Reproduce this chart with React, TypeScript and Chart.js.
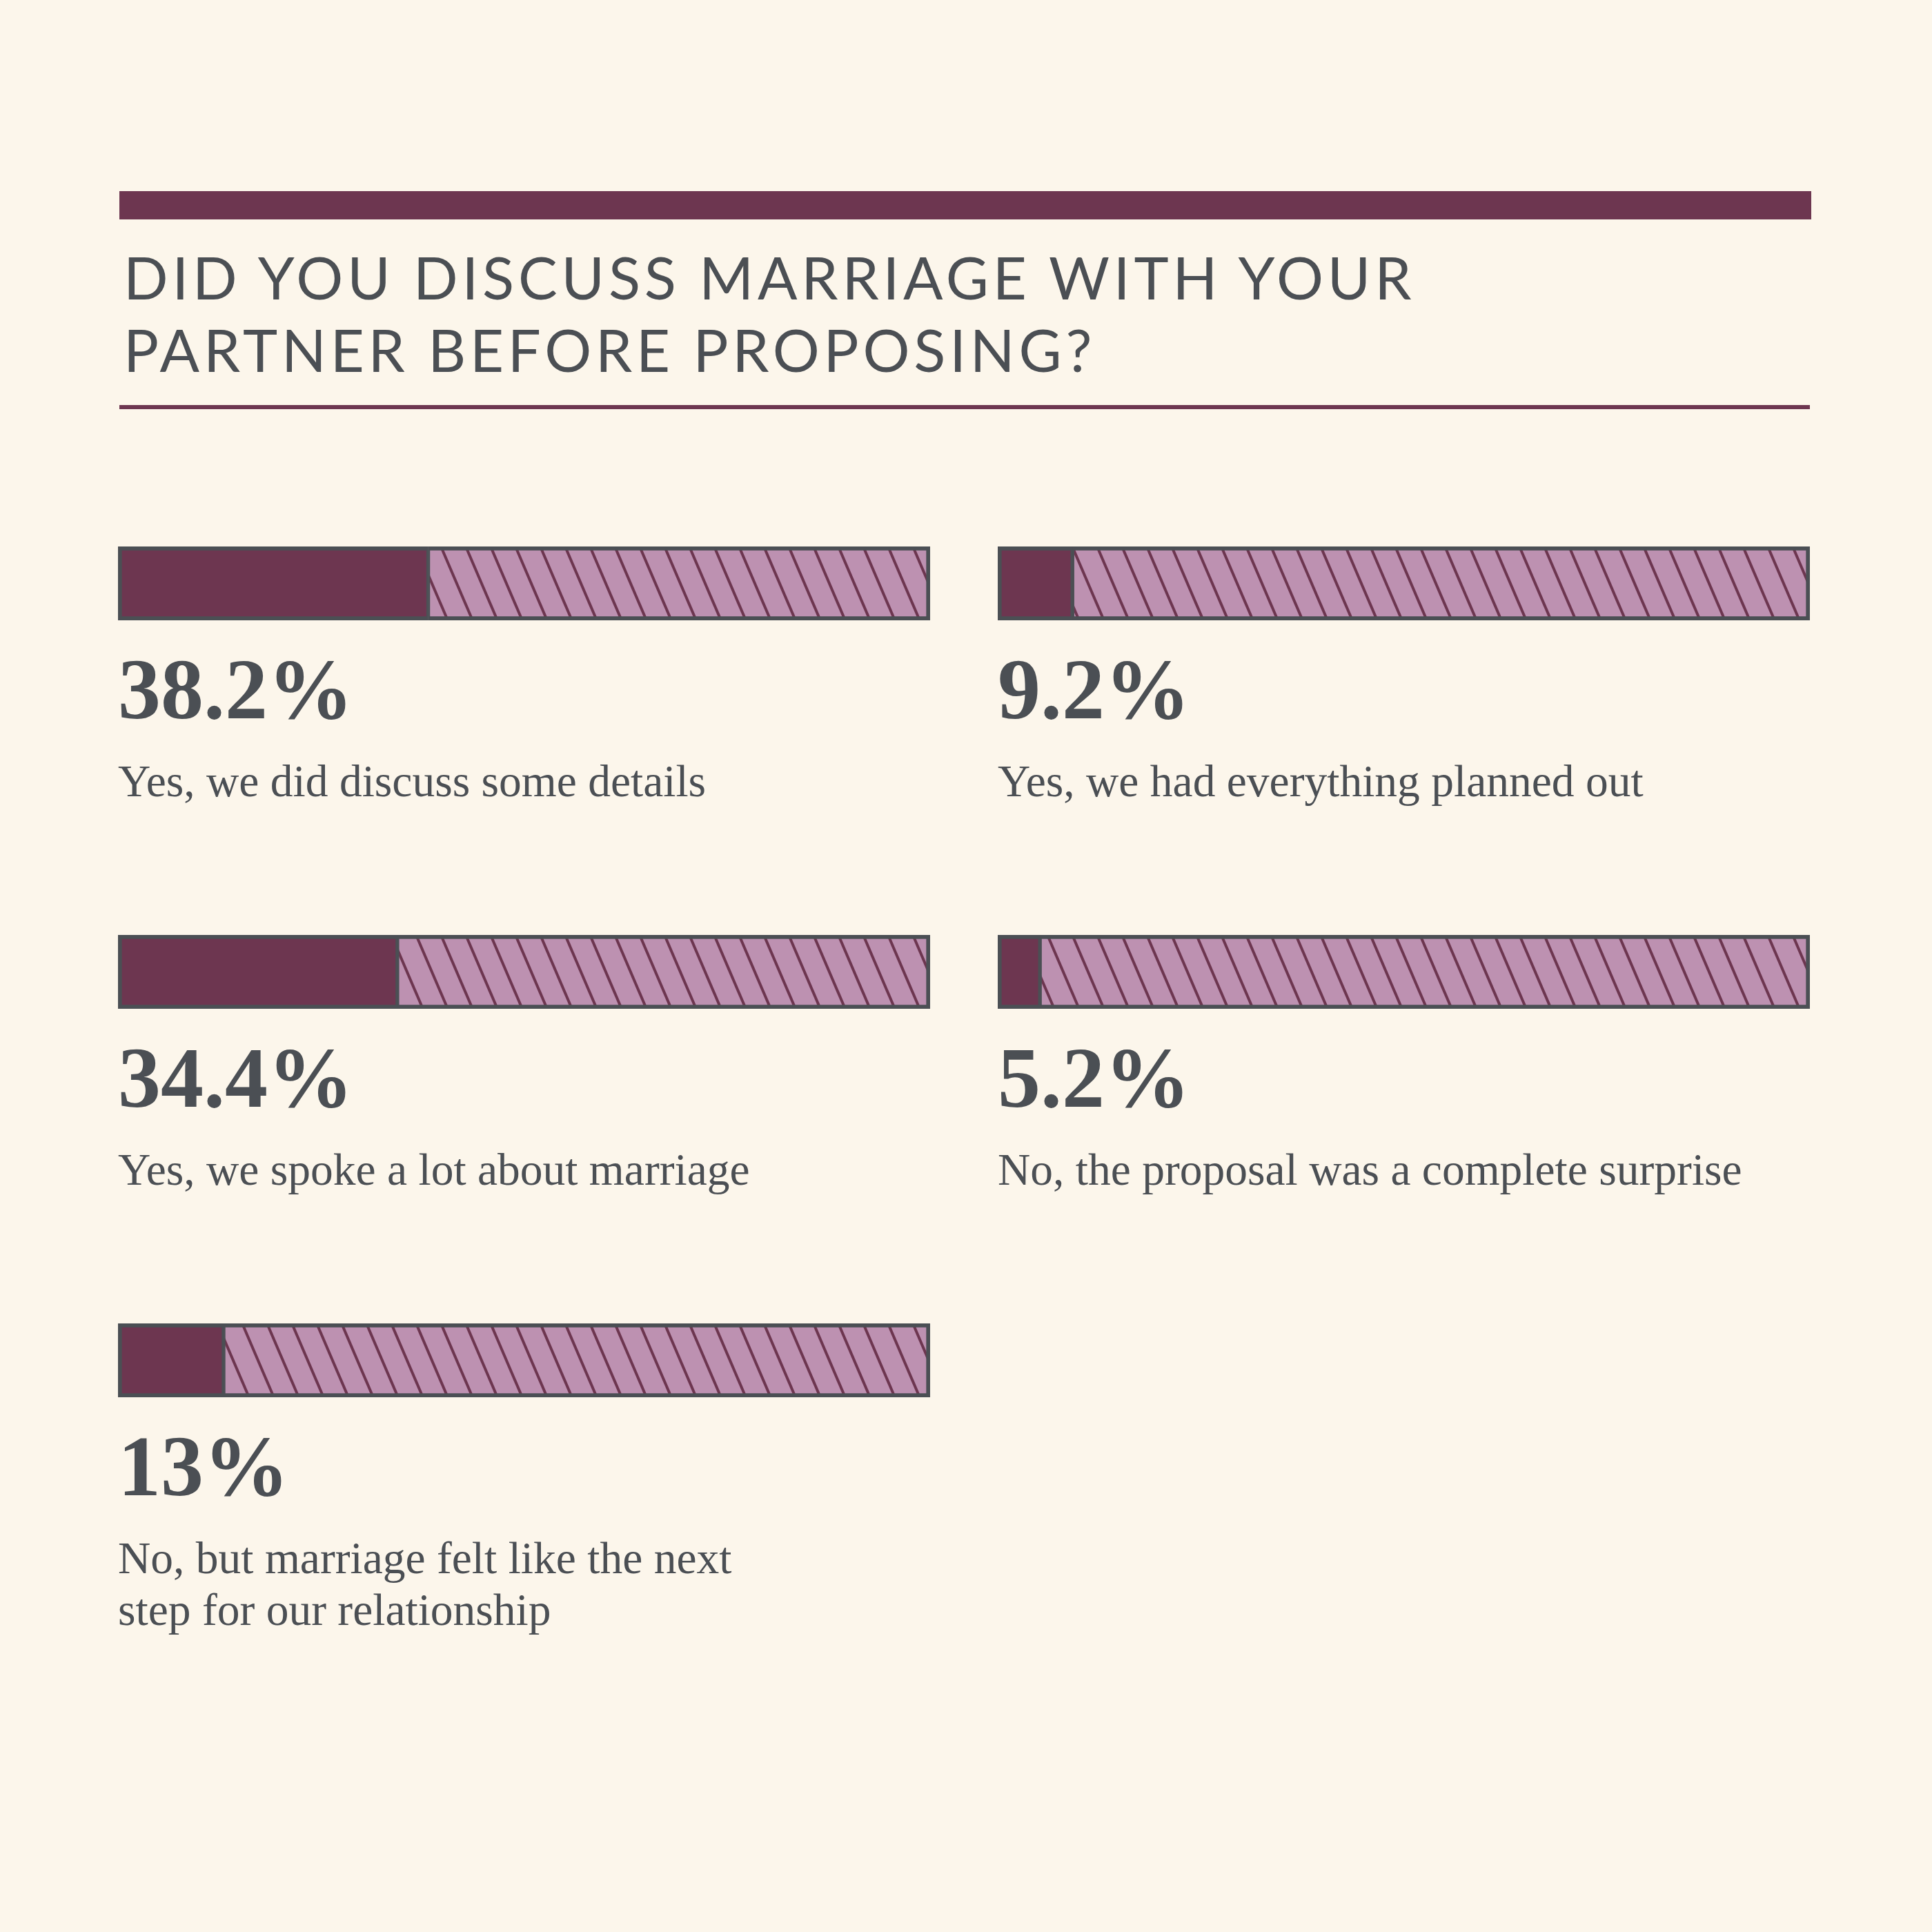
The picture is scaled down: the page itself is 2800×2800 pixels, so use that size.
import React, { useEffect, useRef } from 'react';
import Chart from 'chart.js/auto';

// survey answers, in reading order (left, right, left, right, left)
const answerLabels = [
  ['Yes, we did discuss some details'],
  ['Yes, we had everything planned out'],
  ['Yes, we spoke a lot about marriage'],
  ['No, the proposal was a complete surprise'],
  ['No, but marriage felt like the next', 'step for our relationship'],
];
const answerShares = [38.2, 9.2, 34.4, 5.2, 13];
const shareLabels = ['38.2%', '9.2%', '34.4%', '5.2%', '13%'];
const titleLines = ['DID YOU DISCUSS MARRIAGE WITH YOUR', 'PARTNER BEFORE PROPOSING?'];

const BG = '#fcf6eb';
const PLUM = '#6d3650';
const LILAC = '#bd91b1';
const GREY = '#4b4f54';

const COL_X = [171, 1446];
const ROW_Y = [792, 1355, 1918];
const BAR_W = 1177;
const BAR_H = 107;

function makeHatch(ctx: CanvasRenderingContext2D) {
  const w = 36;
  const h = 84;
  const tile = document.createElement('canvas');
  tile.width = w;
  tile.height = h;
  const t = tile.getContext('2d')!;
  t.fillStyle = LILAC;
  t.fillRect(0, 0, w, h);
  t.strokeStyle = PLUM;
  t.lineWidth = 4;
  const slope = w / h;
  for (let k = -1; k <= 1; k++) {
    t.beginPath();
    t.moveTo(k * w - slope * 10, -10);
    t.lineTo(k * w + slope * (h + 10), h + 10);
    t.stroke();
  }
  return ctx.createPattern(tile, 'repeat') as CanvasPattern;
}

const ShareBar: React.FC<{ value: number }> = ({ value }) => {
  const canvasRef = useRef<HTMLCanvasElement>(null);
  const chartRef = useRef<Chart | null>(null);

  useEffect(() => {
    if (!canvasRef.current) return;
    const ctx = canvasRef.current.getContext('2d');
    if (!ctx) return;
    if (chartRef.current) chartRef.current.destroy();
    chartRef.current = new Chart(ctx, {
      type: 'bar',
      data: {
        labels: [''],
        datasets: [
          {
            data: [value],
            backgroundColor: PLUM,
            borderColor: GREY,
            borderWidth: { top: 6, left: 6, bottom: 6, right: 3 },
            borderSkipped: false,
            barPercentage: 1,
            categoryPercentage: 1,
          },
          {
            data: [100 - value],
            backgroundColor: makeHatch(ctx),
            borderColor: GREY,
            borderWidth: { top: 6, left: 3, bottom: 6, right: 6 },
            borderSkipped: false,
            barPercentage: 1,
            categoryPercentage: 1,
          },
        ],
      },
      options: {
        indexAxis: 'y',
        animation: false,
        responsive: true,
        maintainAspectRatio: false,
        layout: { padding: 0 },
        plugins: { legend: { display: false }, tooltip: { enabled: false } },
        scales: {
          x: { stacked: true, min: 0, max: 100, display: false },
          y: { stacked: true, display: false },
        },
      },
    });
    return () => {
      if (chartRef.current) chartRef.current.destroy();
      chartRef.current = null;
    };
  }, [value]);

  return (
    <div style={{ position: 'relative', width: BAR_W, height: BAR_H }}>
      <canvas ref={canvasRef}></canvas>
    </div>
  );
};

export default function App() {
  useEffect(() => {
    document.body.style.margin = '0';
    document.body.style.background = BG;
  }, []);

  return (
    <div
      style={{
        position: 'absolute',
        left: 0,
        top: 0,
        width: 2800,
        height: 2800,
        background: BG,
        overflow: 'hidden',
      }}
    >
      <div style={{ position: 'absolute', left: 173, top: 277, width: 2452, height: 41, background: PLUM }} />
      <div
        style={{
          position: 'absolute',
          left: 179,
          top: 349,
          fontFamily: 'Lato, sans-serif',
          fontSize: 85,
          lineHeight: '105px',
          letterSpacing: 5.8,
          color: GREY,
          whiteSpace: 'nowrap',
        }}
      >
        {titleLines.map((l) => (
          <div key={l}>{l}</div>
        ))}
      </div>
      <div style={{ position: 'absolute', left: 173, top: 587, width: 2450, height: 6, background: PLUM }} />

      {answerShares.map((v, i) => {
        const x = COL_X[i % 2];
        const y = ROW_Y[Math.floor(i / 2)];
        return (
          <div key={i} style={{ position: 'absolute', left: x, top: y }}>
            <ShareBar value={v} />
            <div
              style={{
                position: 'absolute',
                left: 0,
                top: BAR_H + 39,
                fontFamily: '"Liberation Serif", serif',
                fontWeight: 700,
                fontSize: 124,
                lineHeight: 1,
                color: GREY,
                whiteSpace: 'nowrap',
              }}
            >
              {shareLabels[i]}
            </div>
            <div
              style={{
                position: 'absolute',
                left: 0,
                top: BAR_H + 196,
                fontFamily: '"Liberation Serif", serif',
                fontSize: 65.5,
                lineHeight: '75px',
                color: GREY,
                whiteSpace: 'nowrap',
              }}
            >
              {answerLabels[i].map((l) => (
                <div key={l}>{l}</div>
              ))}
            </div>
          </div>
        );
      })}
    </div>
  );
}
